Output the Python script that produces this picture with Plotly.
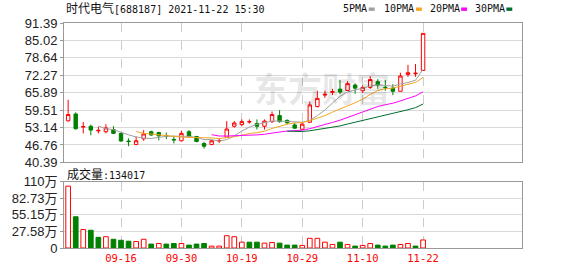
import plotly.graph_objects as go
import pandas as pd

# ---------------- data ----------------
dates = ["09-07", "09-08", "09-09", "09-10", "09-13", "09-14", "09-15", "09-16", "09-17",
         "09-22", "09-23", "09-24", "09-27", "09-28", "09-29", "09-30",
         "10-08", "10-11", "10-12", "10-13", "10-14", "10-15", "10-18", "10-19", "10-20",
         "10-21", "10-22", "10-25", "10-26", "10-27", "10-28", "10-29",
         "11-01", "11-02", "11-03", "11-04", "11-05", "11-08", "11-09", "11-10", "11-11",
         "11-12", "11-15", "11-16", "11-17", "11-18", "11-19", "11-22"]

opens = [55.6, 58.1, 53.3, 53.6, 51.9, 51.6, 52.4, 51.0, 48.2, 46.9, 49.0, 51.6, 51.3, 50.2, 48.8, 48.3,
         51.6, 49.85, 47.3, 46.9, 48.2, 49.6, 53.6, 54.2, 55.2, 54.6, 53.6, 55.3, 57.5, 55.75, 54.1, 52.5,
         55.05, 60.8, 65.0, 66.0, 67.2, 66.7, 68.7, 66.6, 67.8, 69.9, 67.9, 67.55, 66.4, 72.5, 72.8, 74.0]
highs = [63.3, 58.7, 55.2, 54.2, 53.4, 54.35, 53.6, 51.3, 49.2, 49.85, 52.2, 52.0, 51.6, 51.3, 50.1, 52.0,
         52.2, 50.1, 47.8, 48.7, 49.2, 55.5, 55.5, 56.1, 56.1, 56.1, 56.1, 59.0, 59.5, 56.1, 54.9, 54.8,
         62.6, 66.6, 66.6, 67.3, 70.5, 70.1, 69.3, 68.5, 71.9, 70.85, 70.5, 69.0, 73.2, 76.05, 76.4, 87.6]
lows = [55.3, 52.4, 51.0, 50.3, 51.0, 51.0, 50.7, 48.0, 46.3, 46.9, 48.3, 50.1, 48.4, 48.9, 47.3, 48.0,
        49.6, 47.8, 45.4, 46.9, 47.5, 49.4, 53.1, 53.6, 54.6, 52.4, 52.4, 54.8, 54.9, 54.35, 52.7, 52.2,
        55.0, 60.5, 64.0, 65.0, 65.4, 66.7, 65.5, 65.8, 67.3, 67.3, 66.6, 65.0, 66.4, 71.7, 71.7, 74.0]
closes = [57.9, 52.7, 53.5, 52.2, 52.1, 53.0, 51.0, 48.2, 48.0, 48.3, 50.8, 50.4, 50.1, 50.0, 48.6, 51.0,
          49.85, 48.0, 46.3, 48.3, 48.4, 52.6, 54.8, 55.3, 55.25, 53.6, 55.5, 57.9, 55.3, 54.9, 52.9, 54.4,
          61.4, 63.8, 65.3, 66.3, 66.1, 69.2, 67.55, 67.8, 70.7, 68.7, 67.7, 66.4, 72.0, 73.2, 73.0, 87.6]

# volume in 万 shares, and whether the volume bar is drawn "up" (red hollow)
volumes = [103.0, 52.0, 30.7, 29.6, 17.8, 18.8, 14.5, 12.9, 11.3, 10.8, 14.5, 6.5, 7.5, 6.5, 7.5, 7.5,
           4.8, 6.5, 7.5, 3.2, 3.2, 20.5, 18.8, 9.7, 9.7, 9.7, 8.1, 9.2, 8.1, 4.8, 4.8, 4.3,
           16.1, 16.1, 9.7, 5.9, 9.7, 5.9, 3.2, 4.3, 7.5, 4.8, 3.2, 4.8, 5.9, 7.5, 3.2, 13.4017]
vol_up = [1, 0, 1, 0, 0, 1, 0, 0, 0, 1, 1, 0, 1, 0, 0, 1,
          0, 0, 0, 1, 1, 1, 1, 1, 0, 0, 1, 1, 0, 0, 0, 1,
          1, 1, 1, 1, 0, 1, 0, 1, 1, 0, 0, 0, 1, 1, 0, 1]

tick_dates = ["09-16", "09-30", "10-19", "10-29", "11-10", "11-22"]
price_ticks = [40.39, 46.76, 53.14, 59.51, 65.89, 72.27, 78.64, 85.02, 91.39]
vol_ticks = [0, 27.58, 55.15, 82.73, 110.3]
vol_tick_text = ["0", "27.58万", "55.15万", "82.73万", "110万"]

ma_periods = [5, 10, 20, 30]
ma_names = ["5PMA", "10PMA", "20PMA", "30PMA"]
ma_colors = ["#a0a0a0", "#f5a623", "#ff00ff", "#006e2e"]

title_text = "<span style='font-size:12px'>时代电气</span>[688187] 2021-11-22 15:30"
vol_title = "<span style='font-size:12px'>成交量</span>:134017"

# ---------------- layout helpers ----------------
W, H = 578, 276
ML, MR, MT, MB = 56, 56, 23, 21
PW, PH = W - ML - MR, H - MT - MB


def px(x):
    return (x - ML) / PW


def py(y):
    return (H - MB - y) / PH


RED = "#ff0000"
GREEN = "#008000"
GRID = "#d9d9d9"
FRAME = "#999999"
MONO = "DejaVu Sans Mono, Noto Sans CJK SC"
SANS = "Liberation Sans, Arial, Noto Sans CJK SC"

idx = list(range(len(dates)))
tickvals = [dates.index(d) for d in tick_dates]

fig = go.Figure()

fig.add_trace(go.Candlestick(
    x=idx, open=opens, high=highs, low=lows, close=closes,
    xaxis="x", yaxis="y",
    increasing=dict(line=dict(color=RED, width=1), fillcolor="white"),
    decreasing=dict(line=dict(color=GREEN, width=1), fillcolor=GREEN),
    whiskerwidth=0, showlegend=False, hoverinfo="skip",
))

cs = pd.Series(closes)
for p, name, col in zip(ma_periods, ma_names, ma_colors):
    ma = cs.rolling(p).mean()
    fig.add_trace(go.Scatter(
        x=idx, y=ma, mode="lines", line=dict(color=col, width=1),
        xaxis="x", yaxis="y", showlegend=False, hoverinfo="skip", name=name,
    ))

fig.add_trace(go.Bar(
    x=idx, y=volumes, xaxis="x2", yaxis="y2", width=0.62,
    marker=dict(color=["white" if u else GREEN for u in vol_up],
                line=dict(color=[RED if u else GREEN for u in vol_up], width=1)),
    showlegend=False, hoverinfo="skip",
))

xrange = [-0.55, 60.1]
axis_common = dict(showline=True, linecolor=FRAME, linewidth=1, mirror=True, zeroline=False)

fig.update_layout(
    width=W, height=H,
    margin=dict(l=ML, r=MR, t=MT, b=MB, pad=0),
    paper_bgcolor="white", plot_bgcolor="white",
    boxgap=0.35,
    hovermode=False,
    xaxis=dict(domain=[0, 1], range=xrange, tickvals=tickvals, showticklabels=False,
               showgrid=True, gridcolor="#cccccc", griddash="dash", gridwidth=1,
               rangeslider=dict(visible=False), ticks="", anchor="y", **axis_common),
    yaxis=dict(domain=[py(166.7), 1], range=[price_ticks[0], price_ticks[-1]],
               tickvals=price_ticks, ticktext=[f"{v:.2f}" for v in price_ticks],
               showgrid=True, gridcolor=GRID, ticks="outside", ticklen=3, tickcolor=FRAME,
               tickfont=dict(family=SANS, size=13, color="#222222"), anchor="x", **axis_common),
    xaxis2=dict(domain=[0, 1], range=xrange, tickvals=tickvals, ticktext=tick_dates,
                showgrid=True, gridcolor="#cccccc", griddash="dash", gridwidth=1, ticks="",
                tickfont=dict(family=MONO, size=10.5, color=RED), anchor="y2", **axis_common),
    yaxis2=dict(domain=[0, py(186.7)], range=[vol_ticks[0], vol_ticks[-1]],
                tickvals=vol_ticks, ticktext=vol_tick_text,
                showgrid=True, gridcolor=GRID, ticks="outside", ticklen=3, tickcolor=FRAME,
                tickfont=dict(family=SANS, size=13, color="#222222"), anchor="x2", **axis_common),
)

annotations = [
    dict(text="<b>东方财富</b>", x=px(318), y=py(89), xref="paper", yref="paper",
         showarrow=False, font=dict(family="Noto Sans CJK SC", size=34, color="rgba(0,0,0,0.11)"),
         xanchor="center", yanchor="middle"),
    dict(text=title_text, x=px(56), y=py(8), xref="paper", yref="paper", showarrow=False,
         xanchor="left", yanchor="middle", font=dict(family=MONO, size=10, color="#111111")),
    dict(text=vol_title, x=px(57), y=py(179), xref="paper", yref="paper", showarrow=False,
         xanchor="left", yanchor="middle", font=dict(family=MONO, size=10, color="#111111")),
]

# legend: text + small coloured rectangles
legend_x = [338, 380, 426, 472]
shapes = []
for lx, name, col in zip(legend_x, ma_names, ma_colors):
    tw = 6.02 * len(name)
    annotations.append(dict(text=name, x=px(lx), y=py(8.5), xref="paper", yref="paper",
                            showarrow=False, xanchor="left", yanchor="middle",
                            font=dict(family=MONO, size=10, color="#111111")))
    sx = lx + tw + 4
    shapes.append(dict(type="rect", xref="paper", yref="paper",
                       x0=px(sx), x1=px(sx + 6), y0=py(10.5), y1=py(7),
                       fillcolor=col, line=dict(width=0)))

fig.update_layout(annotations=annotations, shapes=shapes)

fig.write_html("out.html")
